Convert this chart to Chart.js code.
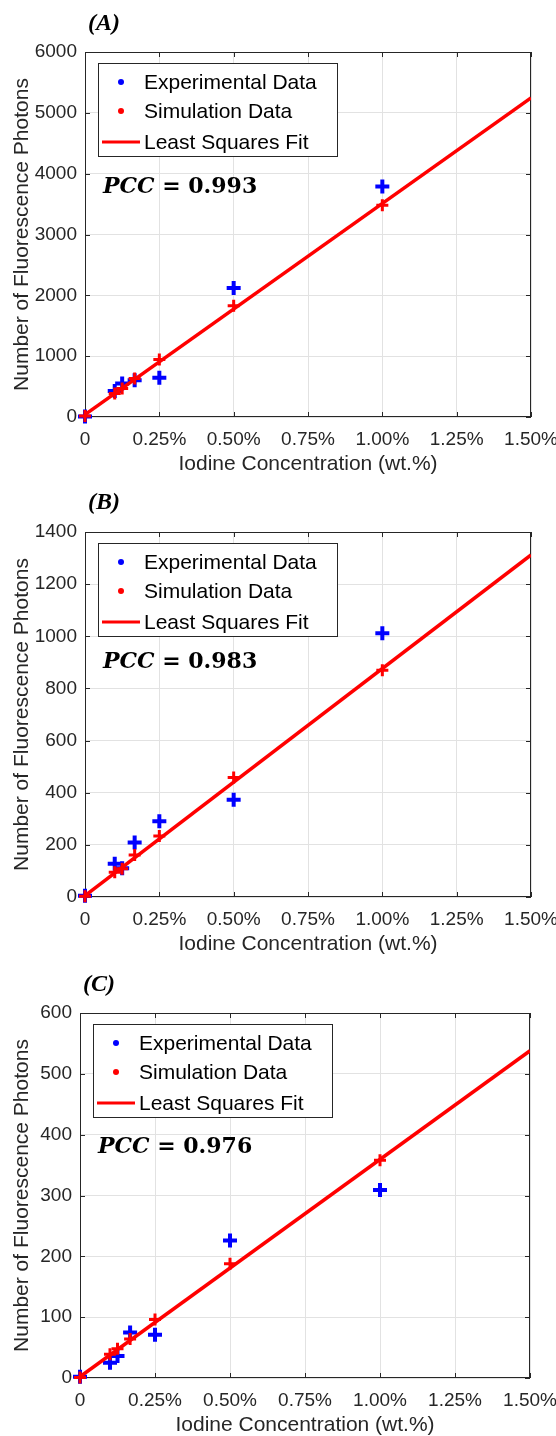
<!DOCTYPE html>
<html>
<head>
<meta charset="utf-8">
<script src="https://cdn.jsdelivr.net/npm/chart.js@4.4.1/dist/chart.umd.min.js"></script>
<style>
  html, body { margin: 0; padding: 0; background: #fff; }
  .panel { position: absolute; left: 0; width: 556px; }
  #panelA { top: 0; height: 480px; }
  #panelB { top: 480px; height: 480px; }
  #panelC { top: 960px; height: 476px; }
</style>
</head>
<body>
<div class="panel" id="panelA"><canvas id="chartA"></canvas></div>
<div class="panel" id="panelB"><canvas id="chartB"></canvas></div>
<div class="panel" id="panelC"><canvas id="chartC"></canvas></div>
<script>
// iodine concentration (wt.%), same for every panel
const concentration = [0, 0.1, 0.125, 0.167, 0.25, 0.5, 1.0];
const fitX = [0, 1.5];
const xMax = 1.5;
const xStep = 0.25;

// panel (A)
const expA = [10, 426, 552, 606, 645, 2120, 3790];
const simA = [15, 388, 470, 634, 946, 1830, 3480];
const fitA = [40, 5245];
const yMaxA = 6000, yStepA = 1000;

// panel (B)
const expB = [5, 128, 110, 209, 291, 373, 1012];
const simB = [3, 95, 108, 161, 234, 458, 870];
const fitB = [5, 1312];
const yMaxB = 1400, yStepB = 200;

// panel (C)
const expC = [2, 25, 36, 75, 71, 226, 309];
const simC = [1, 39, 48, 64, 96, 188, 358];
const fitC = [2, 538];
const yMaxC = 600, yStepC = 100;

const panelLabels = ['(A)', '(B)', '(C)'];
const pccValues = ['0.993', '0.983', '0.976'];
const legendLabels = ['Experimental Data', 'Simulation Data', 'Least Squares Fit'];
const xTitle = 'Iodine Concentration (wt.%)';
const yTitle = 'Number of Fluorescence Photons';

const AXIS_COLOR = '#262626';
const GRID_COLOR = '#e2e2e2';
const BLUE = '#0000ff';
const RED = '#ff0000';
const SANS = '"Liberation Sans", Arial, sans-serif';

function toPoints(xs, ys) {
    return xs.map((x, i) => ({ x: x, y: ys[i] }));
}

// box, inward ticks, legend, PCC text and panel label
const decorations = {
    id: 'decorations',
    beforeDatasetsDraw(chart) {
        const { ctx, chartArea: a, scales } = chart;
        const len = 5;
        ctx.save();
        ctx.strokeStyle = AXIS_COLOR;
        ctx.lineWidth = 1;
        ctx.strokeRect(a.left + 0.5, a.top + 0.5, a.right - a.left - 1, a.bottom - a.top - 1);
        ctx.beginPath();
        scales.x.ticks.forEach(t => {
            const px = Math.round(scales.x.getPixelForValue(t.value)) + 0.5;
            ctx.moveTo(px, a.bottom); ctx.lineTo(px, a.bottom - len);
            ctx.moveTo(px, a.top); ctx.lineTo(px, a.top + len);
        });
        scales.y.ticks.forEach(t => {
            const py = Math.round(scales.y.getPixelForValue(t.value)) + 0.5;
            ctx.moveTo(a.left, py); ctx.lineTo(a.left + len, py);
            ctx.moveTo(a.right, py); ctx.lineTo(a.right - len, py);
        });
        ctx.stroke();
        ctx.restore();
    },
    afterDatasetsDraw(chart, args, opts) {
        const { ctx, chartArea: a } = chart;
        ctx.save();

        // legend box
        const bx = a.left + opts.legendDx, by = a.top + opts.legendDy;
        ctx.fillStyle = '#ffffff';
        ctx.fillRect(bx, by, 239, 93);
        ctx.strokeStyle = AXIS_COLOR;
        ctx.lineWidth = 1;
        ctx.strokeRect(bx + 0.5, by + 0.5, 239, 93);
        const rows = [19, 48, 79];
        ctx.font = '21px ' + SANS;
        ctx.textBaseline = 'middle';
        ctx.textAlign = 'left';
        [BLUE, RED].forEach((c, i) => {
            ctx.fillStyle = c;
            ctx.beginPath();
            ctx.arc(bx + 23, by + rows[i], 3, 0, Math.PI * 2);
            ctx.fill();
        });
        ctx.strokeStyle = RED;
        ctx.lineWidth = 3;
        ctx.beginPath();
        ctx.moveTo(bx + 4, by + rows[2]);
        ctx.lineTo(bx + 42, by + rows[2]);
        ctx.stroke();
        ctx.fillStyle = '#000000';
        legendLabels.forEach((t, i) => ctx.fillText(t, bx + 46, by + rows[i] + 1));

        // PCC annotation
        const px = a.left + opts.pccDx, py = a.top + opts.pccDy;
        ctx.font = 'italic bold 22px "DejaVu Serif", serif';
        ctx.fillText('PCC', px, py);
        const w = ctx.measureText('PCC').width;
        ctx.font = 'bold 22px "DejaVu Serif", serif';
        ctx.fillText(' = ' + opts.pcc, px + w, py);
        ctx.restore();
    },
    afterDraw(chart, args, opts) {
        const ctx = chart.ctx;
        ctx.save();
        ctx.font = 'italic bold 24px "Liberation Serif", "Times New Roman", serif';
        ctx.fillStyle = '#000000';
        ctx.textBaseline = 'middle';
        ctx.textAlign = 'left';
        ctx.fillText(opts.label, opts.labelX, opts.labelY);
        ctx.restore();
    }
};

function makePanel(id, exp, sim, fit, yMax, yStep, idx, layout) {
    const canvas = document.getElementById(id);
    return new Chart(canvas.getContext('2d'), {
        type: 'scatter',
        data: {
            datasets: [
                {
                    label: legendLabels[2],
                    type: 'line',
                    data: toPoints(fitX, fit),
                    borderColor: RED,
                    borderWidth: 3.5,
                    pointRadius: 0,
                    fill: false,
                    order: 0
                },
                {
                    label: legendLabels[1],
                    data: toPoints(concentration, sim),
                    pointStyle: 'cross',
                    pointRadius: 6,
                    borderColor: RED,
                    borderWidth: 3,
                    clip: false,
                    order: 1
                },
                {
                    label: legendLabels[0],
                    data: toPoints(concentration, exp),
                    pointStyle: 'cross',
                    pointRadius: 7,
                    borderColor: BLUE,
                    borderWidth: 4,
                    clip: false,
                    order: 2
                }
            ]
        },
        options: {
            responsive: true,
            maintainAspectRatio: false,
            animation: false,
            layout: { padding: layout.padding },
            plugins: {
                legend: { display: false },
                tooltip: { enabled: false },
                decorations: {
                    label: panelLabels[idx],
                    pcc: pccValues[idx],
                    labelX: layout.labelX,
                    labelY: layout.labelY,
                    legendDx: 13,
                    legendDy: 11,
                    pccDx: 18,
                    pccDy: layout.pccDy
                }
            },
            scales: {
                x: {
                    type: 'linear',
                    min: 0,
                    max: xMax,
                    afterFit: s => { s.height = 58; s.paddingLeft = 0; s.paddingRight = 0; },
                    grid: { color: GRID_COLOR, drawTicks: false },
                    border: { display: false },
                    ticks: {
                        stepSize: xStep,
                        autoSkip: false,
                        maxRotation: 0,
                        padding: 11,
                        color: AXIS_COLOR,
                        font: { size: 19, family: SANS },
                        callback: v => v === 0 ? '0' : v.toFixed(2) + '%'
                    },
                    title: {
                        display: true,
                        text: xTitle,
                        color: AXIS_COLOR,
                        font: { size: 21, family: SANS, lineHeight: 1 },
                        padding: { top: 0, bottom: 0 }
                    }
                },
                y: {
                    type: 'linear',
                    min: 0,
                    max: yMax,
                    afterFit: s => { s.width = layout.axisWidth; },
                    grid: { color: GRID_COLOR, drawTicks: false },
                    border: { display: false },
                    ticks: {
                        stepSize: yStep,
                        padding: 8,
                        color: AXIS_COLOR,
                        font: { size: 19, family: SANS },
                        callback: v => String(v)
                    },
                    title: {
                        display: true,
                        text: yTitle,
                        color: AXIS_COLOR,
                        font: { size: 21, family: SANS, lineHeight: 1 },
                        padding: { top: 12, bottom: 0 }
                    }
                }
            }
        },
        plugins: [decorations]
    });
}

makePanel('chartA', expA, simA, fitA, yMaxA, yStepA, 0,
    { padding: { top: 52, right: 25, bottom: 5, left: 0 }, axisWidth: 85, labelX: 88, labelY: 24, pccDy: 135 });
makePanel('chartB', expB, simB, fitB, yMaxB, yStepB, 1,
    { padding: { top: 52, right: 25, bottom: 5, left: 0 }, axisWidth: 85, labelX: 88, labelY: 23, pccDy: 130 });
makePanel('chartC', expC, simC, fitC, yMaxC, yStepC, 2,
    { padding: { top: 53, right: 26, bottom: 0, left: 0 }, axisWidth: 80, labelX: 83, labelY: 25, pccDy: 134 });
</script>
</body>
</html>
